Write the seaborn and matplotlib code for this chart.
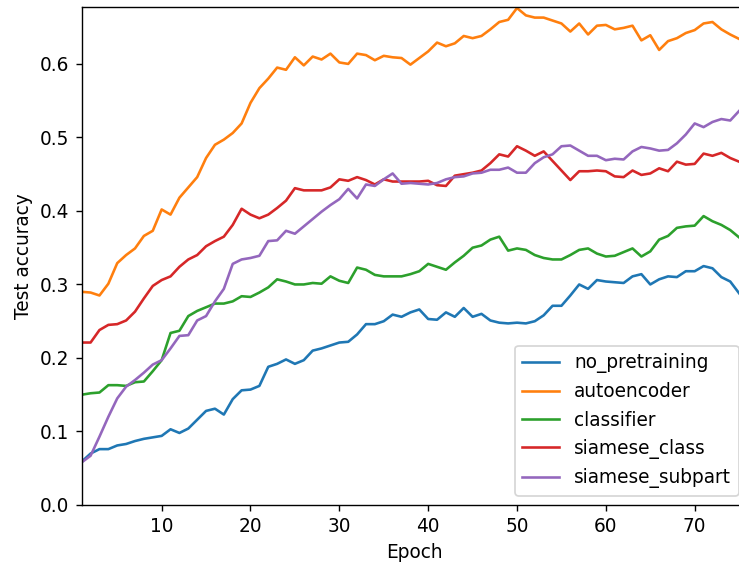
import matplotlib
matplotlib.use("Agg")
import matplotlib.pyplot as plt
import seaborn as sns
import pandas as pd

epochs = list(range(1, 76))

no_pretraining = [
    0.059, 0.070, 0.076, 0.076, 0.081, 0.083, 0.087, 0.090, 0.092, 0.094,
    0.103, 0.098, 0.104, 0.116, 0.128, 0.131, 0.123, 0.144, 0.156, 0.157,
    0.162, 0.188, 0.192, 0.198, 0.192, 0.197, 0.210, 0.213, 0.217, 0.221,
    0.222, 0.232, 0.246, 0.246, 0.250, 0.259, 0.256, 0.262, 0.266, 0.253,
    0.252, 0.262, 0.256, 0.268, 0.256, 0.260, 0.251, 0.248, 0.247, 0.248,
    0.247, 0.250, 0.258, 0.271, 0.271, 0.285, 0.300, 0.294, 0.306, 0.304,
    0.303, 0.302, 0.311, 0.314, 0.300, 0.307, 0.311, 0.310, 0.318, 0.318,
    0.325, 0.322, 0.310, 0.304, 0.288]

autoencoder = [
    0.290, 0.289, 0.285, 0.301, 0.329, 0.340, 0.349, 0.366, 0.373, 0.402,
    0.395, 0.418, 0.432, 0.446, 0.472, 0.490, 0.497, 0.506, 0.519, 0.547,
    0.567, 0.580, 0.595, 0.592, 0.609, 0.598, 0.610, 0.606, 0.614, 0.602,
    0.600, 0.614, 0.612, 0.605, 0.611, 0.609, 0.608, 0.599, 0.608, 0.617,
    0.629, 0.624, 0.628, 0.638, 0.635, 0.638, 0.647, 0.657, 0.660, 0.676,
    0.666, 0.663, 0.663, 0.659, 0.655, 0.644, 0.655, 0.640, 0.652, 0.653,
    0.647, 0.649, 0.652, 0.632, 0.639, 0.619, 0.631, 0.635, 0.642, 0.646,
    0.655, 0.657, 0.647, 0.640, 0.634]

classifier = [
    0.150, 0.152, 0.153, 0.163, 0.163, 0.162, 0.167, 0.168, 0.182, 0.197,
    0.234, 0.237, 0.257, 0.264, 0.269, 0.274, 0.274, 0.277, 0.284, 0.283,
    0.289, 0.296, 0.307, 0.304, 0.300, 0.300, 0.302, 0.301, 0.311, 0.305,
    0.302, 0.323, 0.320, 0.313, 0.311, 0.311, 0.311, 0.314, 0.318, 0.328,
    0.324, 0.320, 0.330, 0.339, 0.350, 0.353, 0.361, 0.365, 0.346, 0.349,
    0.347, 0.340, 0.336, 0.334, 0.334, 0.340, 0.347, 0.349, 0.342, 0.338,
    0.339, 0.344, 0.349, 0.338, 0.345, 0.361, 0.366, 0.377, 0.379, 0.380,
    0.393, 0.386, 0.381, 0.374, 0.364]

siamese_class = [
    0.221, 0.221, 0.238, 0.245, 0.246, 0.251, 0.263, 0.281, 0.298, 0.306,
    0.311, 0.324, 0.334, 0.340, 0.352, 0.359, 0.365, 0.381, 0.403, 0.395,
    0.390, 0.395, 0.404, 0.414, 0.431, 0.428, 0.428, 0.428, 0.432, 0.443,
    0.441, 0.446, 0.442, 0.436, 0.443, 0.440, 0.440, 0.440, 0.440, 0.441,
    0.435, 0.434, 0.448, 0.450, 0.452, 0.455, 0.465, 0.477, 0.474, 0.488,
    0.482, 0.475, 0.481, 0.468, 0.455, 0.442, 0.454, 0.454, 0.455, 0.454,
    0.447, 0.446, 0.455, 0.449, 0.451, 0.458, 0.454, 0.467, 0.463, 0.464,
    0.478, 0.475, 0.479, 0.472, 0.467]

siamese_subpart = [
    0.058, 0.067, 0.093, 0.120, 0.145, 0.161, 0.170, 0.180, 0.191, 0.197,
    0.213, 0.230, 0.231, 0.251, 0.257, 0.277, 0.294, 0.328, 0.334, 0.336,
    0.339, 0.359, 0.360, 0.373, 0.369, 0.379, 0.389, 0.399, 0.408, 0.416,
    0.430, 0.417, 0.436, 0.434, 0.443, 0.451, 0.437, 0.438, 0.437, 0.436,
    0.438, 0.443, 0.446, 0.447, 0.451, 0.452, 0.456, 0.456, 0.459, 0.452,
    0.452, 0.465, 0.473, 0.477, 0.488, 0.489, 0.482, 0.475, 0.475, 0.469,
    0.471, 0.470, 0.481, 0.487, 0.485, 0.482, 0.483, 0.492, 0.504, 0.519,
    0.514, 0.521, 0.525, 0.523, 0.536]

series_names = ["no_pretraining", "autoencoder", "classifier",
                "siamese_class", "siamese_subpart"]
series_values = [no_pretraining, autoencoder, classifier,
                 siamese_class, siamese_subpart]

rows = []
for name, vals in zip(series_names, series_values):
    for e, v in zip(epochs, vals):
        rows.append({"Epoch": e, "acc": v, "model": name})
df = pd.DataFrame(rows)

plt.rcParams["font.size"] = 10.7

DPI = 125
fig = plt.figure(figsize=(739 / DPI, 562 / DPI), dpi=DPI)
ax = fig.add_axes([81.7 / 739, 57 / 562, (748 - 81.7) / 739, (505 - 7.3) / 562])

palette = sns.color_palette("tab10", 5)
sns.lineplot(data=df, x="Epoch", y="acc", hue="model", hue_order=series_names,
             palette=palette, ax=ax, linewidth=1.5)

ax.set_xlim(1, 76)
ax.set_ylim(0, 0.677)
ax.set_xticks([10, 20, 30, 40, 50, 60, 70])
ax.set_yticks([0.0, 0.1, 0.2, 0.3, 0.4, 0.5, 0.6])
ax.set_xlabel("Epoch")
ax.set_ylabel("Test accuracy")
sns.move_legend(ax, "lower right", title=None)

fig.savefig("out.png", dpi=DPI)
